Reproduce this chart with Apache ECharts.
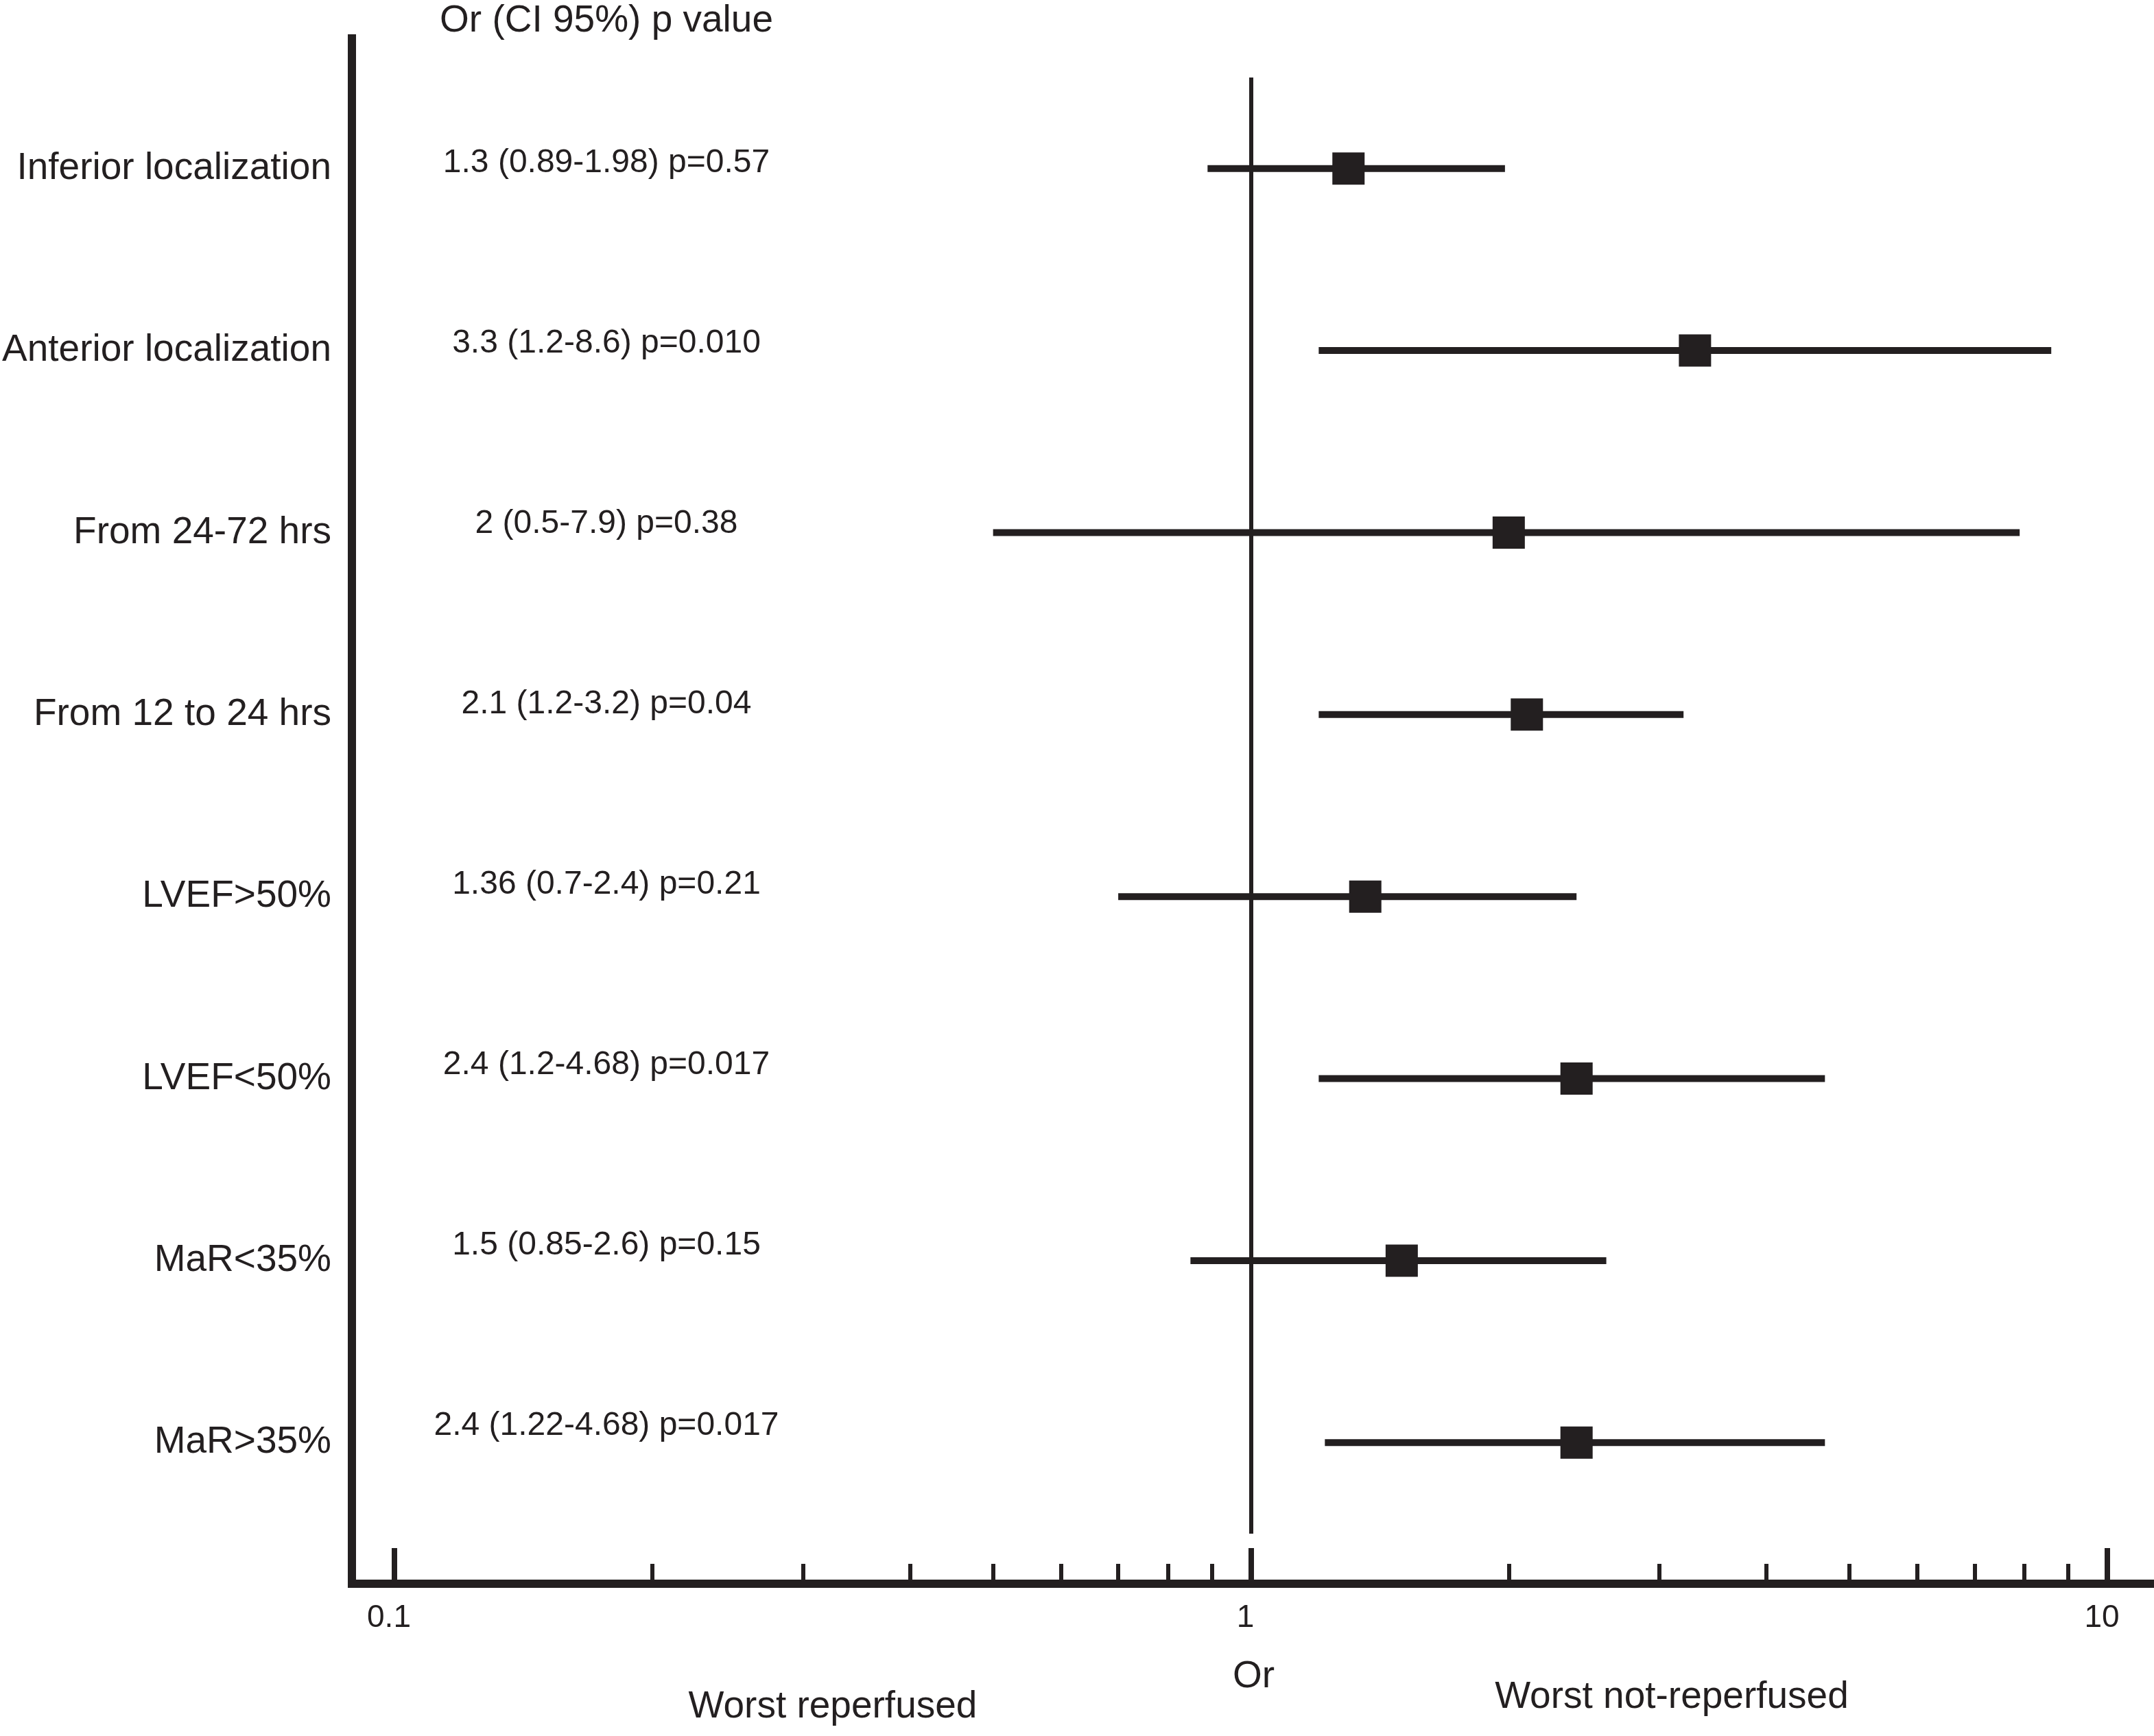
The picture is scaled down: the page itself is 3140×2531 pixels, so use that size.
<!DOCTYPE html>
<html><head><meta charset="utf-8">
<script src="https://cdn.jsdelivr.net/npm/echarts@6/dist/echarts.min.js"></script>
<style>html,body{margin:0;padding:0;background:#fff}#c{width:3140px;height:2531px}</style>
</head><body><div id="c"></div>
<script>
const categories = ['Inferior localization','Anterior localization','From 24-72 hrs','From 12 to 24 hrs','LVEF>50%','LVEF<50%','MaR<35%','MaR>35%'];
const orValues = [1.3, 3.3, 2, 2.1, 1.36, 2.4, 1.5, 2.4];
const ciLow = [0.89, 1.2, 0.5, 1.2, 0.7, 1.2, 0.85, 1.22];
const ciHigh = [1.98, 8.6, 7.9, 3.2, 2.4, 4.68, 2.6, 4.68];
const ciTexts = ['1.3 (0.89-1.98) p=0.57','3.3 (1.2-8.6) p=0.010','2 (0.5-7.9) p=0.38','2.1 (1.2-3.2) p=0.04','1.36 (0.7-2.4) p=0.21','2.4 (1.2-4.68) p=0.017','1.5 (0.85-2.6) p=0.15','2.4 (1.22-4.68) p=0.017'];
const majorTicks = [0.1, 1, 10];
const minorTicks = [0.2,0.3,0.4,0.5,0.6,0.7,0.8,0.9,2,3,4,5,6,7,8,9];
const headerText = 'Or (CI 95%) p value';
const xName = 'Or';
const leftNote = 'Worst reperfused';
const rightNote = 'Worst not-reperfused';

const INK = '#231f20';
const FONT = 'Liberation Sans, Arial, sans-serif';

const chart = echarts.init(document.getElementById('c'), null, {renderer: 'canvas'});
const option = {
  backgroundColor: '#fff',
  animation: false,
  title: [
    {text: headerText, left: 884, top: 3, textAlign: 'center', padding: 0,
     textStyle: {fontFamily: FONT, fontSize: 55, fontWeight: 'normal', color: INK}},
    {text: leftNote, left: 1214, top: 2461, textAlign: 'center', padding: 0,
     textStyle: {fontFamily: FONT, fontSize: 55, fontWeight: 'normal', color: INK}},
    {text: rightNote, left: 2437, top: 2447, textAlign: 'center', padding: 0,
     textStyle: {fontFamily: FONT, fontSize: 55, fontWeight: 'normal', color: INK}}
  ],
  grid: [
    {left: 575, right: 68, top: 113, bottom: 295},
    {left: 513, right: 0, top: 56, bottom: 222},
    {left: 884, width: 100, top: 106, bottom: 321}
  ],
  xAxis: [
    {type: 'log', gridIndex: 0, min: 0.1, max: 10, position: 'bottom', offset: 73,
     axisLine: {show: false},
     axisTick: {show: true, inside: true, length: 52, customValues: majorTicks, lineStyle: {color: INK, width: 8}},
     axisLabel: {show: true, margin: 27, customValues: majorTicks, fontFamily: FONT, fontSize: 46, color: INK,
       padding: [0, 16, 0, 0], formatter: v => String(v)},
     splitLine: {show: false},
     name: xName, nameLocation: 'middle', nameGap: 108,
     nameTextStyle: {fontFamily: FONT, fontSize: 55, color: INK, padding: [0, 0, 0, 8]}},
    {type: 'log', gridIndex: 0, min: 0.1, max: 10, position: 'bottom', offset: 73,
     axisLine: {show: false},
     axisTick: {show: true, inside: true, length: 29, customValues: minorTicks, lineStyle: {color: INK, width: 6}},
     axisLabel: {show: false}, splitLine: {show: false}},
    {type: 'value', gridIndex: 1, min: 0, max: 1,
     axisLine: {show: true, lineStyle: {color: INK, width: 12, cap: 'square'}},
     axisTick: {show: false}, axisLabel: {show: false}, splitLine: {show: false}},
    {type: 'value', gridIndex: 2, show: false, min: 0, max: 1}
  ],
  yAxis: [
    {type: 'category', gridIndex: 0, data: categories, inverse: true, position: 'left', offset: 62,
     axisLine: {show: false}, axisTick: {show: false}, splitLine: {show: false},
     axisLabel: {margin: 30, fontFamily: FONT, fontSize: 55, color: INK, padding: [8, 0, 0, 0]}},
    {type: 'value', gridIndex: 1, min: 0, max: 1,
     axisLine: {show: true, lineStyle: {color: INK, width: 12, cap: 'square'}},
     axisTick: {show: false}, axisLabel: {show: false}, splitLine: {show: false}},
    {type: 'category', gridIndex: 2, data: ciTexts, inverse: true, position: 'left',
     axisLine: {show: false}, axisTick: {show: false}, splitLine: {show: false},
     axisLabel: {margin: 0, align: 'center', fontFamily: FONT, fontSize: 48, color: INK}}
  ],
  series: [
    {
      type: 'custom', xAxisIndex: 0, yAxisIndex: 0, silent: true,
      data: categories.map((c, i) => [ciLow[i], ciHigh[i], i]),
      encode: {x: [0, 1], y: 2},
      renderItem: function (params, api) {
        const p1 = api.coord([api.value(0), api.value(2)]);
        const p2 = api.coord([api.value(1), api.value(2)]);
        return {type: 'line', shape: {x1: p1[0], y1: p1[1], x2: p2[0], y2: p2[1]},
                style: {stroke: INK, lineWidth: 10}};
      },
      z: 3
    },
    {
      type: 'scatter', xAxisIndex: 0, yAxisIndex: 0, silent: true,
      symbol: 'rect', symbolSize: 47,
      itemStyle: {color: INK, opacity: 1},
      data: categories.map((c, i) => [orValues[i], i]),
      markLine: {
        silent: true, symbol: 'none', label: {show: false},
        lineStyle: {color: INK, width: 6, type: 'solid'},
        data: [{xAxis: 1}]
      },
      z: 4
    }
  ]
};
chart.setOption(option);
</script></body></html>
